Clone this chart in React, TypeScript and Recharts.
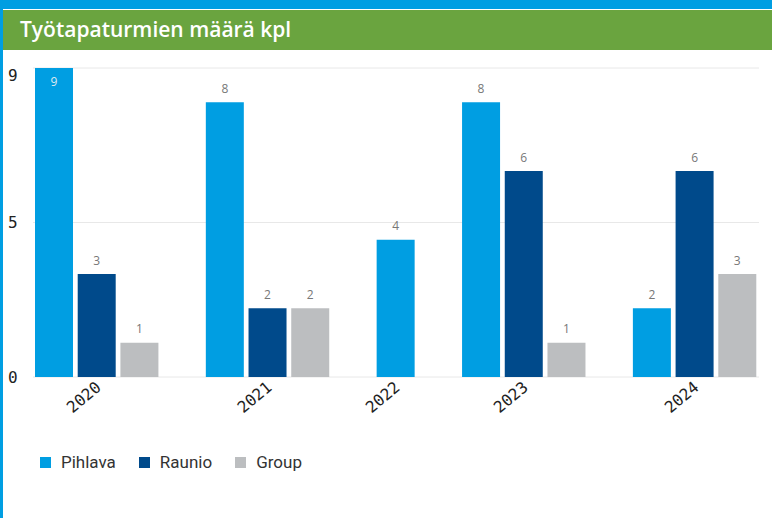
import React from 'react';
import { BarChart, Bar, XAxis, YAxis, CartesianGrid, Legend, LabelList } from 'recharts';

const years = ['2020', '2021', '2022', '2023', '2024'];
const pihlava: (number | null)[] = [9, 8, 4, 8, 2];
const raunio: (number | null)[] = [3, 2, null, 6, 6];
const group: (number | null)[] = [1, 2, null, 1, 3];
const seriesNames = ['Pihlava', 'Raunio', 'Group'];
const seriesColors = ['#009ee2', '#004a8b', '#bcbec0'];
const yTicks = [0, 4.5, 9];
const yDomain = [0, 9];
const title = 'Työtapaturmien määrä kpl';

const seriesValues = [pihlava, raunio, group];

type Row = { slot: string; year: string; [k: string]: any };

// Each present bar gets its own slot; an empty slot separates the years.
const rows: Row[] = [];
const tickSlots: string[] = [];
years.forEach((yr, i) => {
  if (i > 0) rows.push({ slot: `gap-${i}`, year: '' });
  const present = seriesNames
    .map((n, s) => ({ n, v: seriesValues[s][i] }))
    .filter((e) => e.v != null);
  const start = rows.length;
  present.forEach((e) => rows.push({ slot: `${yr}-${e.n}`, year: yr, [e.n]: e.v }));
  tickSlots.push(rows[start + Math.floor(present.length / 2)].slot);
});
const yearBySlot: Record<string, string> = {};
rows.forEach((r) => (yearBySlot[r.slot] = r.year));

const YTick = (props: any) => {
  const { y, payload } = props;
  const isTop = payload.value === yDomain[1];
  return (
    <text x={8} y={y + (isTop ? 7 : 0)} dy={5.5} textAnchor="start" fill="#222"
      style={{ fontFamily: '"DejaVu Sans Mono", monospace', fontSize: 16 }}>
      {Math.round(payload.value)}
    </text>
  );
};

const XTick = (props: any) => {
  const { x, y, payload } = props;
  return (
    <g transform={`translate(${x + 5},${y + 4})`}>
      <text textAnchor="end" transform="rotate(-40)" fill="#222"
        style={{ fontFamily: '"DejaVu Sans Mono", monospace', fontSize: 16 }}>
        {yearBySlot[payload.value]}
      </text>
    </g>
  );
};

const renderLabel = (props: any) => {
  const { x, y, width, value } = props;
  if (value == null || typeof value !== 'number') return null;
  const inside = value >= yDomain[1];
  return (
    <text x={x + width / 2} y={inside ? y + 18 : y - 9.5} textAnchor="middle"
      fill={inside ? '#dfe9f0' : '#777'}
      style={{ fontFamily: '"Open Sans", sans-serif', fontSize: 12 }}>
      {value}
    </text>
  );
};

const renderLegend = (props: any) => {
  const payload = [...(props.payload || [])].sort(
    (a: any, b: any) => seriesNames.indexOf(a.value) - seriesNames.indexOf(b.value)
  );
  return (
    <div style={{ display: 'flex', alignItems: 'center', fontFamily: 'Roboto, sans-serif', fontSize: 17, lineHeight: '20px', height: 20, color: '#333' }}>
      {payload.map((p: any) => (
        <div key={p.value} style={{ display: 'flex', alignItems: 'center', marginRight: 23 }}>
          <span style={{ display: 'inline-block', width: 11, height: 11, background: p.color, marginRight: 10 }} />
          <span>{p.value}</span>
        </div>
      ))}
    </div>
  );
};

export default function App() {
  return (
    <div style={{ position: 'relative', width: 772, height: 518, background: '#fff', overflow: 'hidden' }}>
      <style>{`body{margin:0}`}</style>
      <div style={{ position: 'absolute', left: 0, top: 0, width: 772, height: 9, background: '#009ee2' }} />
      <div style={{ position: 'absolute', left: 0, top: 0, width: 3, height: 518, background: '#009ee2' }} />
      <div style={{ position: 'absolute', left: 3, top: 10, width: 769, height: 40, background: '#6aa43f' }}>
        <div style={{ position: 'absolute', left: 17, top: -1, lineHeight: '40px', fontFamily: '"Open Sans", sans-serif', fontWeight: 600, fontSize: 21, color: '#fff' }}>
          {title}
        </div>
      </div>
      <div style={{ position: 'absolute', left: 0, top: 50 }}>
        <BarChart width={772} height={468} data={rows} margin={{ top: 18, right: 13, bottom: 71, left: 0 }}>
          <CartesianGrid vertical={false} stroke="#e8e8e8" />
          <XAxis dataKey="slot" ticks={tickSlots} interval={0} tick={<XTick />} axisLine={false} tickLine={false} height={50} />
          <YAxis domain={yDomain} ticks={yTicks} width={33} axisLine={false} tickLine={false} tick={<YTick />} />
          <Legend content={renderLegend} itemSorter={null as any} wrapperStyle={{ position: 'absolute', left: 40, top: 402, width: 'auto' }} />
          {seriesNames.map((n, i) => (
            <Bar key={n} dataKey={n} stackId="a" fill={seriesColors[i]} barSize={38} isAnimationActive={false}>
              <LabelList dataKey={n} content={renderLabel} />
            </Bar>
          ))}
        </BarChart>
      </div>
    </div>
  );
}
